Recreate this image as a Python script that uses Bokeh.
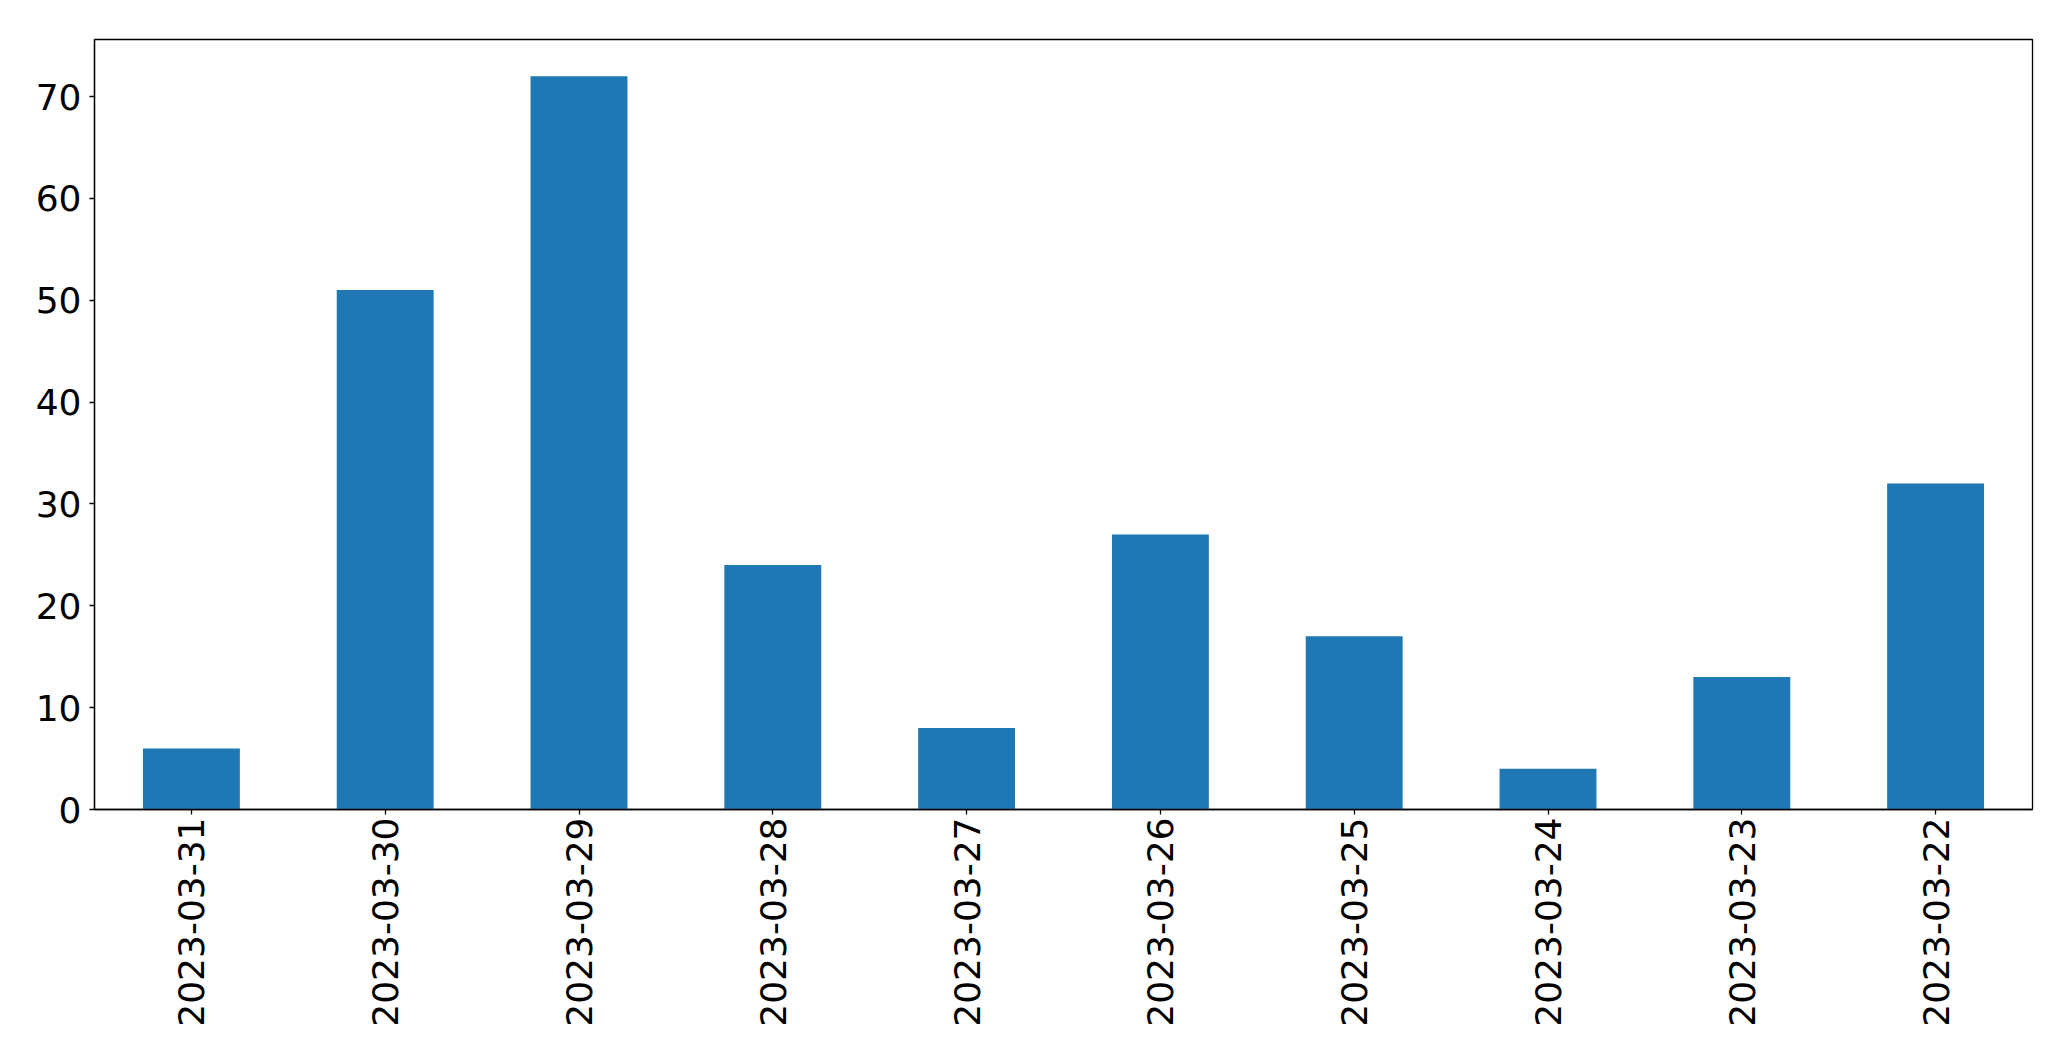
import math
from bokeh.plotting import figure
from bokeh.models import Range1d, FixedTicker
from bokeh.embed import file_html
from bokeh.resources import INLINE

dates = ["2023-03-31", "2023-03-30", "2023-03-29", "2023-03-28", "2023-03-27",
         "2023-03-26", "2023-03-25", "2023-03-24", "2023-03-23", "2023-03-22"]
counts = [6, 51, 72, 24, 8, 27, 17, 4, 13, 32]
y_ticks = [0, 10, 20, 30, 40, 50, 60, 70]

p = figure(x_range=dates, y_range=Range1d(0, 75.6), width=2063, height=1053,
           output_backend="svg", toolbar_location=None,
           min_border_left=94, min_border_right=31, min_border_top=39, min_border_bottom=244)

p.vbar(x=dates, top=counts, width=0.5, fill_color="#1f77b4", line_color=None)

p.xgrid.visible = False
p.ygrid.visible = False
p.outline_line_color = "black"
p.outline_line_width = 1.3

for ax in (p.xaxis, p.yaxis):
    ax.axis_line_color = "black"
    ax.axis_line_width = 1.3
    ax.major_tick_line_color = "black"
    ax.major_tick_line_width = 1.3
    ax.major_tick_out = 5
    ax.major_tick_in = 0
    ax.minor_tick_line_color = None
    ax.major_label_text_font = "DejaVu Sans"
    ax.major_label_text_font_size = "36px"
    ax.major_label_text_color = "black"

p.yaxis.ticker = FixedTicker(ticks=y_ticks)
p.yaxis.major_label_standoff = 8
p.xaxis.major_label_orientation = math.pi / 2
p.xaxis.major_label_standoff = 3

open("out.html", "w").write(file_html(p, INLINE))
